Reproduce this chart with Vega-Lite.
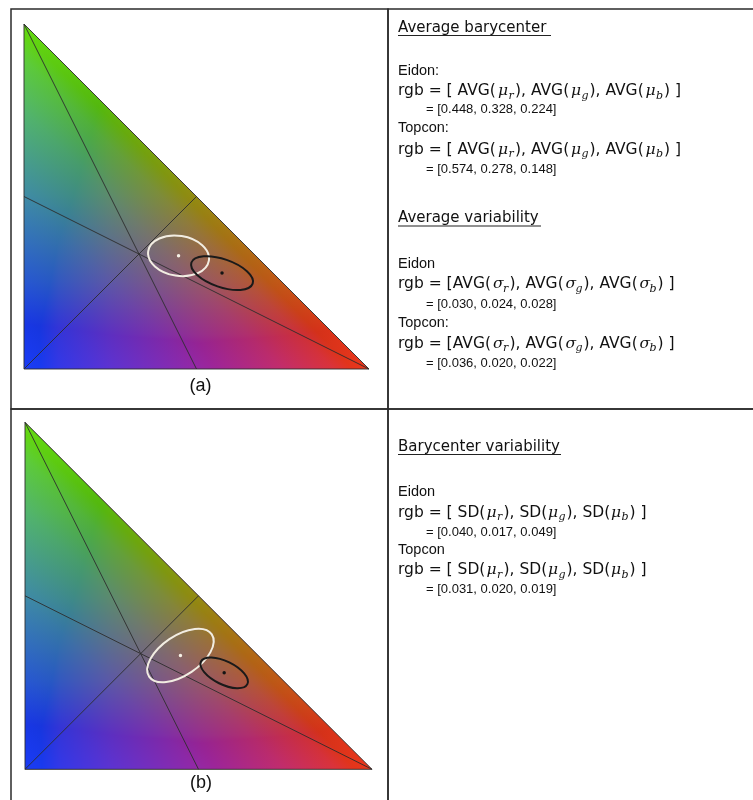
{
  "$schema": "https://vega.github.io/schema/vega-lite/v6.json",
  "background": "white",
  "padding": {"left": 10, "top": 8, "right": 0, "bottom": 0},
  "columns": 2,
  "spacing": 0,
  "bounds": "flush",
  "config": {"view": {"stroke": "#2b2b2b", "strokeWidth": 1.5}, "concat": {"spacing": 0}},
  "datasets": {
    "vertices": [
      {"vertex": "green", "r": 0, "g": 1},
      {"vertex": "red", "r": 1, "g": 0},
      {"vertex": "blue", "r": 0, "g": 0}
    ],
    "segments": [
      {"kind": "median", "r": 0, "g": 1, "r2": 0.5, "g2": 0},
      {"kind": "median", "r": 1, "g": 0, "r2": 0, "g2": 0.5},
      {"kind": "median", "r": 0, "g": 0, "r2": 0.5, "g2": 0.5},
      {"kind": "edge", "r": 0, "g": 0, "r2": 1, "g2": 0},
      {"kind": "edge", "r": 0, "g": 0, "r2": 0, "g2": 1},
      {"kind": "edge", "r": 1, "g": 0, "r2": 0, "g2": 1}
    ],
    "barycenters": [
      {"device": "Eidon", "r": 0.448, "g": 0.328, "b": 0.224},
      {"device": "Topcon", "r": 0.574, "g": 0.278, "b": 0.148}
    ],
    "texts": [
      {"cell": "top", "role": "h", "x": 10, "y": 23, "text": "Average barycenter"},
      {"cell": "top", "role": "u", "x": 10, "x2": 163, "y": 26.5},
      {"cell": "top", "role": "l", "x": 10, "y": 66, "text": "Eidon:"},
      {"cell": "top", "role": "t", "x": 10, "y": 86.3, "text": "rgb = [ AVG("},
      {"cell": "top", "role": "m", "x": 110, "y": 86.3, "text": "μ"},
      {"cell": "top", "role": "s", "x": 120.5, "y": 86.3, "text": "r"},
      {"cell": "top", "role": "t", "x": 127, "y": 86.3, "text": "), AVG("},
      {"cell": "top", "role": "m", "x": 183, "y": 86.3, "text": "μ"},
      {"cell": "top", "role": "s", "x": 193.5, "y": 86.3, "text": "g"},
      {"cell": "top", "role": "t", "x": 201.5, "y": 86.3, "text": "), AVG("},
      {"cell": "top", "role": "m", "x": 257.5, "y": 86.3, "text": "μ"},
      {"cell": "top", "role": "s", "x": 268, "y": 86.3, "text": "b"},
      {"cell": "top", "role": "t", "x": 276, "y": 86.3, "text": ") ]"},
      {"cell": "top", "role": "n", "x": 38, "y": 103.5, "text": "= [0.448, 0.328, 0.224]"},
      {"cell": "top", "role": "l", "x": 10, "y": 123, "text": "Topcon:"},
      {"cell": "top", "role": "t", "x": 10, "y": 144.7, "text": "rgb = [ AVG("},
      {"cell": "top", "role": "m", "x": 110, "y": 144.7, "text": "μ"},
      {"cell": "top", "role": "s", "x": 120.5, "y": 144.7, "text": "r"},
      {"cell": "top", "role": "t", "x": 127, "y": 144.7, "text": "), AVG("},
      {"cell": "top", "role": "m", "x": 183, "y": 144.7, "text": "μ"},
      {"cell": "top", "role": "s", "x": 193.5, "y": 144.7, "text": "g"},
      {"cell": "top", "role": "t", "x": 201.5, "y": 144.7, "text": "), AVG("},
      {"cell": "top", "role": "m", "x": 257.5, "y": 144.7, "text": "μ"},
      {"cell": "top", "role": "s", "x": 268, "y": 144.7, "text": "b"},
      {"cell": "top", "role": "t", "x": 276, "y": 144.7, "text": ") ]"},
      {"cell": "top", "role": "n", "x": 38, "y": 164, "text": "= [0.574, 0.278, 0.148]"},
      {"cell": "top", "role": "h", "x": 10, "y": 213, "text": "Average variability"},
      {"cell": "top", "role": "u", "x": 10, "x2": 153, "y": 217},
      {"cell": "top", "role": "l", "x": 10, "y": 258.7, "text": "Eidon"},
      {"cell": "top", "role": "t", "x": 10, "y": 279.3, "text": "rgb = [AVG("},
      {"cell": "top", "role": "m", "x": 105, "y": 279.3, "text": "σ"},
      {"cell": "top", "role": "s", "x": 115, "y": 279.3, "text": "r"},
      {"cell": "top", "role": "t", "x": 121.5, "y": 279.3, "text": "), AVG("},
      {"cell": "top", "role": "m", "x": 177.5, "y": 279.3, "text": "σ"},
      {"cell": "top", "role": "s", "x": 187.5, "y": 279.3, "text": "g"},
      {"cell": "top", "role": "t", "x": 195.5, "y": 279.3, "text": "), AVG("},
      {"cell": "top", "role": "m", "x": 251.5, "y": 279.3, "text": "σ"},
      {"cell": "top", "role": "s", "x": 261.5, "y": 279.3, "text": "b"},
      {"cell": "top", "role": "t", "x": 269.5, "y": 279.3, "text": ") ]"},
      {"cell": "top", "role": "n", "x": 38, "y": 298.5, "text": "= [0.030, 0.024, 0.028]"},
      {"cell": "top", "role": "l", "x": 10, "y": 318, "text": "Topcon:"},
      {"cell": "top", "role": "t", "x": 10, "y": 338.7, "text": "rgb = [AVG("},
      {"cell": "top", "role": "m", "x": 105, "y": 338.7, "text": "σ"},
      {"cell": "top", "role": "s", "x": 115, "y": 338.7, "text": "r"},
      {"cell": "top", "role": "t", "x": 121.5, "y": 338.7, "text": "), AVG("},
      {"cell": "top", "role": "m", "x": 177.5, "y": 338.7, "text": "σ"},
      {"cell": "top", "role": "s", "x": 187.5, "y": 338.7, "text": "g"},
      {"cell": "top", "role": "t", "x": 195.5, "y": 338.7, "text": "), AVG("},
      {"cell": "top", "role": "m", "x": 251.5, "y": 338.7, "text": "σ"},
      {"cell": "top", "role": "s", "x": 261.5, "y": 338.7, "text": "b"},
      {"cell": "top", "role": "t", "x": 269.5, "y": 338.7, "text": ") ]"},
      {"cell": "top", "role": "n", "x": 38, "y": 357.5, "text": "= [0.036, 0.020, 0.022]"},
      {"cell": "bottom", "role": "h", "x": 10, "y": 42, "text": "Barycenter variability"},
      {"cell": "bottom", "role": "u", "x": 10, "x2": 173, "y": 45.5},
      {"cell": "bottom", "role": "l", "x": 10, "y": 87, "text": "Eidon"},
      {"cell": "bottom", "role": "t", "x": 10, "y": 107.8, "text": "rgb = [ SD("},
      {"cell": "bottom", "role": "m", "x": 98.5, "y": 107.8, "text": "μ"},
      {"cell": "bottom", "role": "s", "x": 109, "y": 107.8, "text": "r"},
      {"cell": "bottom", "role": "t", "x": 115.5, "y": 107.8, "text": "), SD("},
      {"cell": "bottom", "role": "m", "x": 160, "y": 107.8, "text": "μ"},
      {"cell": "bottom", "role": "s", "x": 170.5, "y": 107.8, "text": "g"},
      {"cell": "bottom", "role": "t", "x": 178.5, "y": 107.8, "text": "), SD("},
      {"cell": "bottom", "role": "m", "x": 223, "y": 107.8, "text": "μ"},
      {"cell": "bottom", "role": "s", "x": 233.5, "y": 107.8, "text": "b"},
      {"cell": "bottom", "role": "t", "x": 241.5, "y": 107.8, "text": ") ]"},
      {"cell": "bottom", "role": "n", "x": 38, "y": 126.5, "text": "= [0.040, 0.017, 0.049]"},
      {"cell": "bottom", "role": "l", "x": 10, "y": 144.7, "text": "Topcon"},
      {"cell": "bottom", "role": "t", "x": 10, "y": 165, "text": "rgb = [ SD("},
      {"cell": "bottom", "role": "m", "x": 98.5, "y": 165, "text": "μ"},
      {"cell": "bottom", "role": "s", "x": 109, "y": 165, "text": "r"},
      {"cell": "bottom", "role": "t", "x": 115.5, "y": 165, "text": "), SD("},
      {"cell": "bottom", "role": "m", "x": 160, "y": 165, "text": "μ"},
      {"cell": "bottom", "role": "s", "x": 170.5, "y": 165, "text": "g"},
      {"cell": "bottom", "role": "t", "x": 178.5, "y": 165, "text": "), SD("},
      {"cell": "bottom", "role": "m", "x": 223, "y": 165, "text": "μ"},
      {"cell": "bottom", "role": "s", "x": 233.5, "y": 165, "text": "b"},
      {"cell": "bottom", "role": "t", "x": 241.5, "y": 165, "text": ") ]"},
      {"cell": "bottom", "role": "n", "x": 38, "y": 184.2, "text": "= [0.031, 0.020, 0.019]"}
    ]
  },
  "concat": [
    {
      "width": 377,
      "height": 400,
      "encoding": {
        "x": {"field": "r", "type": "quantitative", "scale": {"domain": [-0.03768, 1.05507], "nice": false, "zero": false}, "axis": null},
        "y": {"field": "g", "type": "quantitative", "scale": {"domain": [-0.11594, 1.04348], "nice": false, "zero": false}, "axis": null}
      },
      "layer": [
        {
          "data": {"name": "vertices"},
          "transform": [{"filter": "datum.vertex !== 'blue'"}],
          "mark": {"type": "area", "orient": "vertical", "opacity": 1, "strokeWidth": 0,
            "fill": {"gradient": "linear", "x1": 0, "y1": 0, "x2": 1, "y2": 0,
              "stops": [
                {"offset": 0, "color": "#000000"},
                {"offset": 0.1, "color": "#330c06"},
                {"offset": 0.25, "color": "#5d160b"},
                {"offset": 0.5, "color": "#942312"},
                {"offset": 0.75, "color": "#c32d17"},
                {"offset": 1, "color": "#ec371c"}
              ]}},
          "encoding": {"y2": {"datum": 0}}
        },
        {
          "data": {"name": "vertices"},
          "transform": [{"filter": "datum.vertex !== 'blue'"}],
          "mark": {"type": "area", "orient": "vertical", "opacity": 1, "strokeWidth": 0, "blend": "lighten",
            "fill": {"gradient": "linear", "x1": 0, "y1": 1, "x2": 0, "y2": 0,
              "stops": [
                {"offset": 0, "color": "#000000"},
                {"offset": 0.1, "color": "#152f03"},
                {"offset": 0.25, "color": "#275707"},
                {"offset": 0.5, "color": "#3f8b0b"},
                {"offset": 0.75, "color": "#53b60e"},
                {"offset": 1, "color": "#65dc12"}
              ]}},
          "encoding": {"y2": {"datum": 0}}
        },
        {
          "data": {"name": "vertices"},
          "transform": [{"filter": "datum.vertex !== 'blue'"}],
          "mark": {"type": "area", "orient": "vertical", "opacity": 1, "strokeWidth": 0, "blend": "lighten",
            "fill": {"gradient": "linear", "x1": 0, "y1": 1, "x2": 0.5, "y2": 0.5,
              "stops": [
                {"offset": 0, "color": "#1a3cf7"},
                {"offset": 0.25, "color": "#1533d2"},
                {"offset": 0.5, "color": "#1028a6"},
                {"offset": 0.75, "color": "#0a1a6c"},
                {"offset": 0.9, "color": "#050d3a"},
                {"offset": 1, "color": "#000000"}
              ]}},
          "encoding": {"y2": {"datum": 0}}
        },
        {
          "data": {"name": "segments"},
          "mark": {"type": "rule", "color": "#2e2e2e", "strokeWidth": 1, "opacity": 0.9},
          "encoding": {"x2": {"field": "r2"}, "y2": {"field": "g2"}}
        },
        {
          "data": {"name": "barycenters"},
          "transform": [{"filter": "datum.device === 'Eidon'"}],
          "mark": {"type": "point", "filled": false, "opacity": 1, "stroke": "#f2ede2", "strokeWidth": 2,
            "shape": "M1,0C1,0.3595 0.5523,0.651 0,0.651C-0.5523,0.651 -1,0.3595 -1,0C-1,-0.3595 -0.5523,-0.651 0,-0.651C0.5523,-0.651 1,-0.3595 1,0Z",
            "size": 3770, "angle": 9}
        },
        {
          "data": {"name": "barycenters"},
          "transform": [{"filter": "datum.device === 'Topcon'"}],
          "mark": {"type": "point", "filled": false, "opacity": 1, "stroke": "#1a1a1a", "strokeWidth": 2,
            "shape": "M1,0C1,0.2386 0.5523,0.432 0,0.432C-0.5523,0.432 -1,0.2386 -1,0C-1,-0.2386 -0.5523,-0.432 0,-0.432C0.5523,-0.432 1,-0.2386 1,0Z",
            "size": 4199, "angle": 19}
        },
        {
          "data": {"name": "barycenters"},
          "mark": {"type": "point", "filled": true, "opacity": 1, "size": 12},
          "encoding": {"color": {"field": "device", "type": "nominal", "scale": {"domain": ["Eidon", "Topcon"], "range": ["#f6f1e6", "#141414"]}, "legend": null}}
        },
        {
          "data": {"name": "vertices"},
          "transform": [
            {"filter": "datum.vertex !== 'green'"},
            {"aggregate": [{"op": "mean", "field": "r", "as": "r"}, {"op": "mean", "field": "g", "as": "g"}]}
          ],
          "mark": {"type": "text", "text": "(a)", "font": "Liberation Sans", "fontSize": 18, "align": "center", "baseline": "middle", "dx": 4, "dy": 17, "color": "#111111"}
        }
      ]
    },
    {
      "width": 367,
      "height": 400,
      "data": {"name": "texts"},
      "transform": [{"filter": "datum.cell === 'top'"}],
      "encoding": {
        "x": {"field": "x", "type": "quantitative", "scale": {"domain": [0, 367], "nice": false, "zero": false}, "axis": null},
        "y": {"field": "y", "type": "quantitative", "scale": {"domain": [0, 400], "nice": false, "zero": false, "reverse": true}, "axis": null}
      },
      "layer": [
        {"transform": [{"filter": "datum.role === 'h'"}], "mark": {"type": "text", "font": "DejaVu Sans", "fontSize": 15, "align": "left", "baseline": "alphabetic", "color": "#111111"}, "encoding": {"text": {"field": "text"}}},
        {"transform": [{"filter": "datum.role === 'u'"}], "mark": {"type": "rule", "color": "#222222", "strokeWidth": 1.2}, "encoding": {"x2": {"field": "x2"}}},
        {"transform": [{"filter": "datum.role === 'l'"}], "mark": {"type": "text", "font": "Liberation Sans", "fontSize": 14.5, "align": "left", "baseline": "alphabetic", "color": "#111111"}, "encoding": {"text": {"field": "text"}}},
        {"transform": [{"filter": "datum.role === 't'"}], "mark": {"type": "text", "font": "DejaVu Sans", "fontSize": 15.5, "align": "left", "baseline": "alphabetic", "color": "#111111"}, "encoding": {"text": {"field": "text"}}},
        {"transform": [{"filter": "datum.role === 'm'"}], "mark": {"type": "text", "font": "DejaVu Serif", "fontStyle": "italic", "fontSize": 15.5, "align": "left", "baseline": "alphabetic", "color": "#111111"}, "encoding": {"text": {"field": "text"}}},
        {"transform": [{"filter": "datum.role === 's'"}], "mark": {"type": "text", "font": "DejaVu Serif", "fontStyle": "italic", "fontSize": 11, "dy": 3.5, "align": "left", "baseline": "alphabetic", "color": "#111111"}, "encoding": {"text": {"field": "text"}}},
        {"transform": [{"filter": "datum.role === 'n'"}], "mark": {"type": "text", "font": "Liberation Sans", "fontSize": 13, "align": "left", "baseline": "alphabetic", "color": "#111111"}, "encoding": {"text": {"field": "text"}}}
      ]
    },
    {
      "width": 377,
      "height": 400,
      "encoding": {
        "x": {"field": "r", "type": "quantitative", "scale": {"domain": [-0.04035, 1.04611], "nice": false, "zero": false}, "axis": null},
        "y": {"field": "g", "type": "quantitative", "scale": {"domain": [-0.11441, 1.03833], "nice": false, "zero": false}, "axis": null}
      },
      "layer": [
        {
          "data": {"name": "vertices"},
          "transform": [{"filter": "datum.vertex !== 'blue'"}],
          "mark": {"type": "area", "orient": "vertical", "opacity": 1, "strokeWidth": 0,
            "fill": {"gradient": "linear", "x1": 0, "y1": 0, "x2": 1, "y2": 0,
              "stops": [
                {"offset": 0, "color": "#000000"},
                {"offset": 0.1, "color": "#330c06"},
                {"offset": 0.25, "color": "#5d160b"},
                {"offset": 0.5, "color": "#942312"},
                {"offset": 0.75, "color": "#c32d17"},
                {"offset": 1, "color": "#ec371c"}
              ]}},
          "encoding": {"y2": {"datum": 0}}
        },
        {
          "data": {"name": "vertices"},
          "transform": [{"filter": "datum.vertex !== 'blue'"}],
          "mark": {"type": "area", "orient": "vertical", "opacity": 1, "strokeWidth": 0, "blend": "lighten",
            "fill": {"gradient": "linear", "x1": 0, "y1": 1, "x2": 0, "y2": 0,
              "stops": [
                {"offset": 0, "color": "#000000"},
                {"offset": 0.1, "color": "#152f03"},
                {"offset": 0.25, "color": "#275707"},
                {"offset": 0.5, "color": "#3f8b0b"},
                {"offset": 0.75, "color": "#53b60e"},
                {"offset": 1, "color": "#65dc12"}
              ]}},
          "encoding": {"y2": {"datum": 0}}
        },
        {
          "data": {"name": "vertices"},
          "transform": [{"filter": "datum.vertex !== 'blue'"}],
          "mark": {"type": "area", "orient": "vertical", "opacity": 1, "strokeWidth": 0, "blend": "lighten",
            "fill": {"gradient": "linear", "x1": 0, "y1": 1, "x2": 0.5, "y2": 0.5,
              "stops": [
                {"offset": 0, "color": "#1a3cf7"},
                {"offset": 0.25, "color": "#1533d2"},
                {"offset": 0.5, "color": "#1028a6"},
                {"offset": 0.75, "color": "#0a1a6c"},
                {"offset": 0.9, "color": "#050d3a"},
                {"offset": 1, "color": "#000000"}
              ]}},
          "encoding": {"y2": {"datum": 0}}
        },
        {
          "data": {"name": "segments"},
          "mark": {"type": "rule", "color": "#2e2e2e", "strokeWidth": 1, "opacity": 0.9},
          "encoding": {"x2": {"field": "r2"}, "y2": {"field": "g2"}}
        },
        {
          "data": {"name": "barycenters"},
          "transform": [{"filter": "datum.device === 'Eidon'"}],
          "mark": {"type": "point", "filled": false, "opacity": 1, "stroke": "#f2ede2", "strokeWidth": 2,
            "shape": "M1,0C1,0.2894 0.5523,0.524 0,0.524C-0.5523,0.524 -1,0.2894 -1,0C-1,-0.2894 -0.5523,-0.524 0,-0.524C0.5523,-0.524 1,-0.2894 1,0Z",
            "size": 5715, "angle": -34}
        },
        {
          "data": {"name": "barycenters"},
          "transform": [{"filter": "datum.device === 'Topcon'"}],
          "mark": {"type": "point", "filled": false, "opacity": 1, "stroke": "#1a1a1a", "strokeWidth": 2,
            "shape": "M1,0C1,0.2485 0.5523,0.45 0,0.45C-0.5523,0.45 -1,0.2485 -1,0C-1,-0.2485 -0.5523,-0.45 0,-0.45C0.5523,-0.45 1,-0.2485 1,0Z",
            "size": 2663, "angle": 26}
        },
        {
          "data": {"name": "barycenters"},
          "mark": {"type": "point", "filled": true, "opacity": 1, "size": 12},
          "encoding": {"color": {"field": "device", "type": "nominal", "scale": {"domain": ["Eidon", "Topcon"], "range": ["#f6f1e6", "#141414"]}, "legend": null}}
        },
        {
          "data": {"name": "vertices"},
          "transform": [
            {"filter": "datum.vertex !== 'green'"},
            {"aggregate": [{"op": "mean", "field": "r", "as": "r"}, {"op": "mean", "field": "g", "as": "g"}]}
          ],
          "mark": {"type": "text", "text": "(b)", "font": "Liberation Sans", "fontSize": 18, "align": "center", "baseline": "middle", "dx": 2.5, "dy": 14, "color": "#111111"}
        }
      ]
    },
    {
      "width": 367,
      "height": 400,
      "data": {"name": "texts"},
      "transform": [{"filter": "datum.cell === 'bottom'"}],
      "encoding": {
        "x": {"field": "x", "type": "quantitative", "scale": {"domain": [0, 367], "nice": false, "zero": false}, "axis": null},
        "y": {"field": "y", "type": "quantitative", "scale": {"domain": [0, 400], "nice": false, "zero": false, "reverse": true}, "axis": null}
      },
      "layer": [
        {"transform": [{"filter": "datum.role === 'h'"}], "mark": {"type": "text", "font": "DejaVu Sans", "fontSize": 15, "align": "left", "baseline": "alphabetic", "color": "#111111"}, "encoding": {"text": {"field": "text"}}},
        {"transform": [{"filter": "datum.role === 'u'"}], "mark": {"type": "rule", "color": "#222222", "strokeWidth": 1.2}, "encoding": {"x2": {"field": "x2"}}},
        {"transform": [{"filter": "datum.role === 'l'"}], "mark": {"type": "text", "font": "Liberation Sans", "fontSize": 14.5, "align": "left", "baseline": "alphabetic", "color": "#111111"}, "encoding": {"text": {"field": "text"}}},
        {"transform": [{"filter": "datum.role === 't'"}], "mark": {"type": "text", "font": "DejaVu Sans", "fontSize": 15.5, "align": "left", "baseline": "alphabetic", "color": "#111111"}, "encoding": {"text": {"field": "text"}}},
        {"transform": [{"filter": "datum.role === 'm'"}], "mark": {"type": "text", "font": "DejaVu Serif", "fontStyle": "italic", "fontSize": 15.5, "align": "left", "baseline": "alphabetic", "color": "#111111"}, "encoding": {"text": {"field": "text"}}},
        {"transform": [{"filter": "datum.role === 's'"}], "mark": {"type": "text", "font": "DejaVu Serif", "fontStyle": "italic", "fontSize": 11, "dy": 3.5, "align": "left", "baseline": "alphabetic", "color": "#111111"}, "encoding": {"text": {"field": "text"}}},
        {"transform": [{"filter": "datum.role === 'n'"}], "mark": {"type": "text", "font": "Liberation Sans", "fontSize": 13, "align": "left", "baseline": "alphabetic", "color": "#111111"}, "encoding": {"text": {"field": "text"}}}
      ]
    }
  ]
}
